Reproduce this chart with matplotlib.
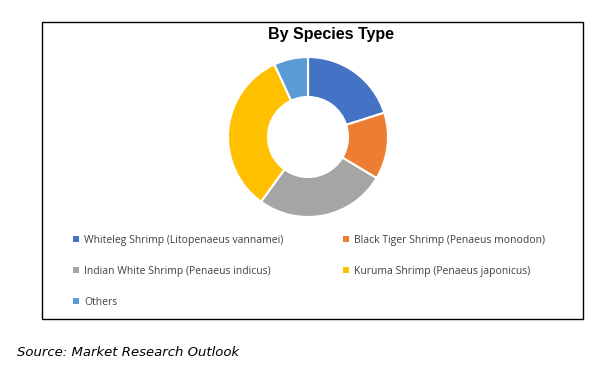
import matplotlib
matplotlib.use("Agg")
import matplotlib.pyplot as plt
from matplotlib.patches import Rectangle, Patch

categories = ["Whiteleg Shrimp (Litopenaeus vannamei)",
              "Black Tiger Shrimp (Penaeus monodon)",
              "Indian White Shrimp (Penaeus indicus)",
              "Kuruma Shrimp (Penaeus japonicus)",
              "Others"]
values = [20.1, 13.5, 26.4, 33.1, 6.9]
colors = ["#4472C4", "#ED7D31", "#A5A5A5", "#FFC000", "#5B9BD5"]
title = "By Species Type"
source = "Source: Market Research Outlook"

W, H = 606, 365
fig = plt.figure(figsize=(W / 100, H / 100), dpi=100)
fig.patch.set_facecolor("white")

# outer frame
fig.patches.append(Rectangle((42 / W, 1 - 319 / H), (583 - 42) / W, (319 - 22) / H,
                             transform=fig.transFigure, fill=False,
                             edgecolor="black", linewidth=1.0))

# donut
cx, cy, r = 308, 137, 80
ax = fig.add_axes([(cx - r) / W, 1 - (cy + r) / H, 2 * r / W, 2 * r / H])
ax.pie(values, colors=colors, startangle=90, counterclock=False,
       wedgeprops=dict(width=0.5, edgecolor="white", linewidth=1.5))
ax.set_aspect("equal")
ax.set_xlim(-1.0, 1.0)
ax.set_ylim(-1.0, 1.0)

fig.text(331 / W, 1 - 35 / H, title, ha="center", va="center",
         fontsize=11.5, fontweight="bold", family="Liberation Sans")

handles = [Patch(facecolor=c, edgecolor="none") for c in colors]
col1 = [0, 2, 4]
col2 = [1, 3]
common = dict(frameon=False, handlelength=0.55, handleheight=0.55,
              handletextpad=0.5, labelspacing=1.92, borderaxespad=0, borderpad=0,
              prop=dict(family="Open Sans", size=7.5))
leg1 = fig.legend([handles[i] for i in col1], [categories[i] for i in col1],
                  loc="upper left", bbox_to_anchor=(73 / W, 1 - 235 / H), **common)
for t in leg1.get_texts():
    t.set_color("#404040")
leg2 = fig.legend([handles[i] for i in col2], [categories[i] for i in col2],
                  loc="upper left", bbox_to_anchor=(343 / W, 1 - 235 / H), **common)
for t in leg2.get_texts():
    t.set_color("#404040")

fig.text(17 / W, 1 - 352 / H, source, ha="left", va="center",
         fontsize=9.5, style="italic", family="DejaVu Sans")

fig.savefig("out.png", dpi=100)
